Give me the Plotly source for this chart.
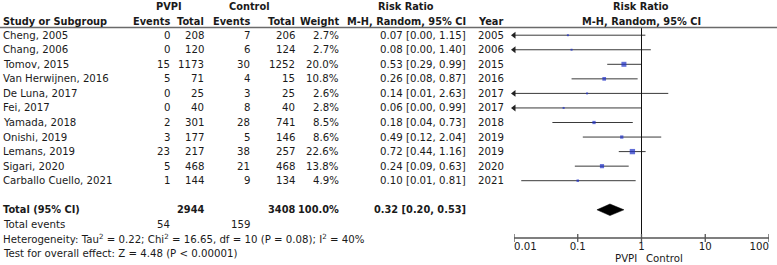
import plotly.graph_objects as go

# ---------------- data ----------------
studies = ["Cheng, 2005", "Chang, 2006", "Tomov, 2015", "Van Herwijnen, 2016",
           "De Luna, 2017", "Fei, 2017", "Yamada, 2018", "Onishi, 2019",
           "Lemans, 2019", "Sigari, 2020", "Carballo Cuello, 2021"]
pvpi_events = [0, 0, 15, 5, 0, 0, 2, 3, 23, 5, 1]
pvpi_total = [208, 120, 1173, 71, 25, 40, 301, 177, 217, 468, 144]
ctrl_events = [7, 6, 30, 4, 3, 8, 28, 5, 38, 21, 9]
ctrl_total = [206, 124, 1252, 15, 25, 40, 741, 146, 257, 468, 134]
weights = [2.7, 2.7, 20.0, 10.8, 2.6, 2.8, 8.5, 8.6, 22.6, 13.8, 4.9]
rr = [0.07, 0.08, 0.53, 0.26, 0.14, 0.06, 0.18, 0.49, 0.72, 0.24, 0.10]
ci_low_text = [0.00, 0.00, 0.29, 0.08, 0.01, 0.00, 0.04, 0.12, 0.44, 0.09, 0.01]
ci_high = [1.15, 1.40, 0.99, 0.87, 2.63, 0.99, 0.73, 2.04, 1.16, 0.63, 0.81]
# lower limits as drawn in the picture (those below 0.01 end in an arrow)
ci_low_drawn = [0.004, 0.005, 0.29, 0.08, 0.007, 0.004, 0.04, 0.12, 0.44, 0.09, 0.013]
years = [2005, 2006, 2015, 2016, 2017, 2017, 2018, 2019, 2019, 2020, 2021]

total_rr, total_low, total_high = 0.32, 0.20, 0.53
total_pvpi_n, total_ctrl_n = 2944, 3408
total_pvpi_ev, total_ctrl_ev = 54, 159
het_text = ("Heterogeneity: Tau<sup>2</sup> = 0.22; Chi<sup>2</sup> = 16.65, df = 10 "
            "(P = 0.08); I<sup>2</sup> = 40%")
test_text = "Test for overall effect: Z = 4.48 (P < 0.00001)"

tick_vals = [0.01, 0.1, 1, 10, 100]
tick_labels = ["0.01", "0.1", "1", "10", "100"]

# ---------------- layout constants ----------------
W, H = 777, 265
ROW0, ROWH = 35.2, 14.55
FONT = "DejaVu Sans"
FS = 10.2
FSB = 9.8
TXT = "#1a1a1a"
AX_LEFT, AX_RIGHT = 514, 769
AXIS_Y = 238
X_STUDY, X_PEV, X_PTOT, X_CEV, X_CTOT, X_W, X_CI, X_YEAR = 3, 170, 204, 250, 295, 339, 466, 478

rows_y = [ROW0 + i * ROWH for i in range(len(studies))]
y_total = ROW0 + 12 * ROWH
y_events = ROW0 + 13 * ROWH
y_het = ROW0 + 14 * ROWH
y_test = ROW0 + 15 * ROWH

fig = go.Figure()
P = dict(hoverinfo="skip", xaxis="x2", yaxis="y", cliponaxis=False)

# CI lines
cx, cy = [], []
for lo, hi, y in zip(ci_low_drawn, ci_high, rows_y):
    cx += [max(lo, tick_vals[0]), hi, None]
    cy += [y, y, None]
fig.add_trace(go.Scatter(x=cx, y=cy, mode="lines", line=dict(color="#3a3a3a", width=1), **P))

# arrows for truncated CIs
ax_, ay_ = [], []
for lo, y in zip(ci_low_drawn, rows_y):
    if lo < tick_vals[0]:
        ax_.append(tick_vals[0])
        ay_.append(y)
fig.add_trace(go.Scatter(x=ax_, y=ay_, mode="markers",
                         marker=dict(symbol="triangle-left", size=6, color="#222222",
                                     line=dict(width=0)), **P))

# squares
fig.add_trace(go.Scatter(x=rr, y=rows_y, mode="markers",
                         marker=dict(symbol="square", size=[max(2.0, 1.12 * w ** 0.5) for w in weights],
                                     color="#1f30c8", line=dict(width=0)), **P))

# diamond
fig.add_trace(go.Scatter(x=[total_low, total_rr, total_high, total_rr, total_low],
                         y=[y_total, y_total - 5.8, y_total, y_total + 5.8, y_total],
                         mode="lines", fill="toself", fillcolor="black",
                         line=dict(color="black", width=0.5), **P))

# line of no effect
fig.add_trace(go.Scatter(x=[1, 1], y=[28, AXIS_Y], mode="lines",
                         line=dict(color="#111111", width=1), **P))

# axis line and ticks
fig.add_trace(go.Scatter(x=[tick_vals[0], tick_vals[-1]], y=[AXIS_Y, AXIS_Y], mode="lines",
                         line=dict(color="#555555", width=1.3), **P))
tx, ty = [], []
for t in tick_vals:
    tx += [t, t, None]
    ty += [AXIS_Y - 4, AXIS_Y + 4, None]
fig.add_trace(go.Scatter(x=tx, y=ty, mode="lines", line=dict(color="#555555", width=1.3), **P))
tick_pos = ["middle right"] + ["middle center"] * (len(tick_vals) - 2) + ["middle left"]
fig.add_trace(go.Scatter(x=tick_vals, y=[AXIS_Y + 9.5] * len(tick_vals), mode="text",
                         text=tick_labels, textposition=tick_pos,
                         textfont=dict(family=FONT, size=FS, color=TXT), **P))

# ---------------- text table ----------------
ann = []


def add(x, y, text, anchor="right", bold=False):
    size = FS
    if bold:
        text = "<b>" + text + "</b>"
        size = FSB
    ann.append(dict(x=x, y=y, xref="x", yref="y", text=text, showarrow=False,
                    xanchor=anchor, yanchor="middle", borderpad=0, borderwidth=0,
                    font=dict(family=FONT, size=size, color=TXT)))


# headers
add((134 + X_PTOT) / 2, 6, "PVPI", "center", True)
add(249, 6, "Control", "center", True)
add(406, 6, "Risk Ratio", "center", True)
add(641, 6, "Risk Ratio", "center", True)
add(X_STUDY, 21, "Study or Subgroup", "left", True)
add(X_PEV, 21, "Events", "right", True)
add(X_PTOT, 21, "Total", "right", True)
add(X_CEV, 21, "Events", "right", True)
add(X_CTOT, 21, "Total", "right", True)
add(X_W, 21, "Weight", "right", True)
add(X_CI, 21, "M-H, Random, 95% CI", "right", True)
add(X_YEAR, 21, "Year", "left", True)
add(641, 21, "M-H, Random, 95% CI", "center", True)

for i, y in enumerate(rows_y):
    add(X_STUDY, y, studies[i], "left")
    add(X_PEV, y, str(pvpi_events[i]))
    add(X_PTOT, y, str(pvpi_total[i]))
    add(X_CEV, y, str(ctrl_events[i]))
    add(X_CTOT, y, str(ctrl_total[i]))
    add(X_W, y, f"{weights[i]:.1f}%")
    add(X_CI, y, f"{rr[i]:.2f} [{ci_low_text[i]:.2f}, {ci_high[i]:.2f}]")
    add(X_YEAR, y, str(years[i]), "left")

add(X_STUDY, y_total, "Total (95% CI)", "left", True)
add(X_PTOT, y_total, str(total_pvpi_n), "right", True)
add(X_CTOT, y_total, str(total_ctrl_n), "right", True)
add(X_W, y_total, f"{sum(weights):.1f}%", "right", True)
add(X_CI, y_total, f"{total_rr:.2f} [{total_low:.2f}, {total_high:.2f}]", "right", True)
add(X_STUDY, y_events, "Total events", "left")
add(X_PEV, y_events, str(total_pvpi_ev))
add(X_CEV, y_events, str(total_ctrl_ev))
add(X_STUDY, y_het, het_text, "left")
add(X_STUDY, y_test, test_text, "left")

add(637, 258, "PVPI", "right")
add(646, 258, "Control", "left")

fig.update_layout(
    width=W, height=H,
    margin=dict(l=0, r=0, t=0, b=0),
    paper_bgcolor="white", plot_bgcolor="white",
    showlegend=False,
    annotations=ann,
    shapes=[dict(type="line", xref="paper", yref="y", x0=0, x1=1, y0=27.5, y1=27.5,
                 line=dict(color="#6a6a6a", width=1.6))],
    xaxis=dict(range=[0, W], domain=[0, 1], visible=False, fixedrange=True),
    xaxis2=dict(type="log", range=[-2, 2], domain=[AX_LEFT / W, AX_RIGHT / W],
                visible=False, fixedrange=True, anchor="y"),
    yaxis=dict(range=[H, 0], domain=[0, 1], visible=False, fixedrange=True),
)

fig.write_html("out.html", config={"displayModeBar": False},
               post_script="document.body.style.margin='0px';")
